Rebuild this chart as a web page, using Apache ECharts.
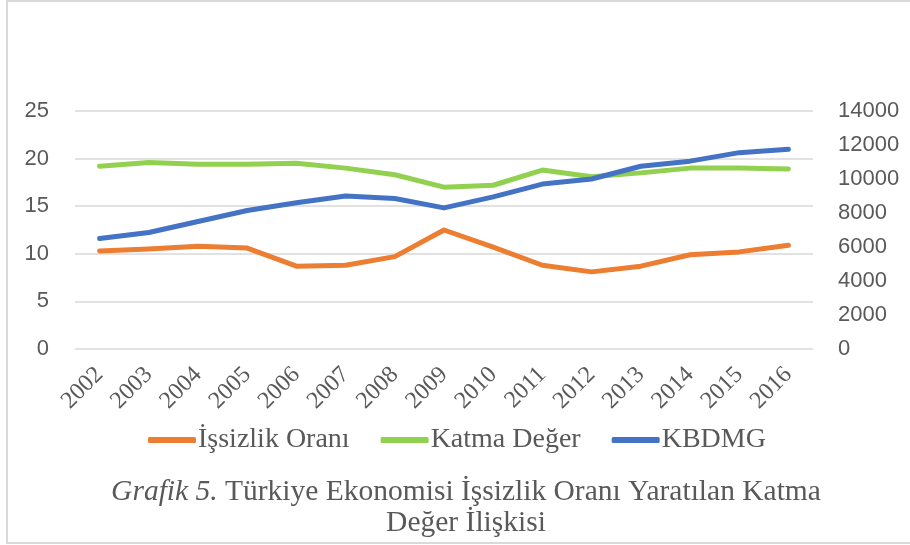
<!DOCTYPE html>
<html>
<head>
<meta charset="utf-8">
<script src="https://cdn.jsdelivr.net/npm/echarts@6/dist/echarts.min.js"></script>
<style>html,body{margin:0;padding:0;background:#fff;}#c{width:910px;height:545px;}</style>
</head>
<body>
<div id="c"></div>
<script>
const years = ['2002','2003','2004','2005','2006','2007','2008','2009','2010','2011','2012','2013','2014','2015','2016'];
const issizlik = [10.3, 10.5, 10.8, 10.6, 8.7, 8.8, 9.7, 12.5, 10.7, 8.8, 8.1, 8.7, 9.9, 10.2, 10.9];
const katmaDeger = [19.2, 19.6, 19.4, 19.4, 19.5, 19.0, 18.3, 17.0, 17.2, 18.8, 18.1, 18.5, 19.0, 19.0, 18.9];
const kbdmg = [6500, 6850, 7500, 8150, 8600, 9000, 8850, 8300, 8950, 9700, 10000, 10750, 11050, 11550, 11750];
const leftTicks = {min: 0, max: 25, interval: 5};
const rightTicks = {min: 0, max: 14000, interval: 2000};
const seriesNames = ['İşsizlik Oranı', 'Katma Değer', 'KBDMG'];

const txt = '#595959';
const chart = echarts.init(document.getElementById('c'), null, {renderer: 'canvas'});
const lineSeries = (name, data, color, axis) => ({
  name, type: 'line', data, yAxisIndex: axis, showSymbol: false, symbol: 'none',
  lineStyle: {color, width: 5, cap: 'round', join: 'round'}, itemStyle: {color},
  animation: false
});
chart.setOption({
  backgroundColor: '#fff',
  animation: false,
  grid: {left: 75, top: 111, width: 738, height: 238},
  xAxis: {
    type: 'category', data: years, boundaryGap: true,
    axisLine: {show: false}, axisTick: {show: false},
    axisLabel: {rotate: 45, margin: 22, color: txt, fontFamily: 'Liberation Serif', fontSize: 24, interval: 0}
  },
  yAxis: [
    {type: 'value', min: leftTicks.min, max: leftTicks.max, interval: leftTicks.interval,
     axisLine: {show: false}, axisTick: {show: false},
     splitLine: {lineStyle: {color: '#d9d9d9', width: 1.5}},
     axisLabel: {margin: 26, color: txt, fontFamily: 'Liberation Sans', fontSize: 22, formatter: v => String(v)}},
    {type: 'value', min: rightTicks.min, max: rightTicks.max, interval: rightTicks.interval,
     axisLine: {show: false}, axisTick: {show: false}, splitLine: {show: false},
     axisLabel: {margin: 25, color: txt, fontFamily: 'Liberation Sans', fontSize: 22, formatter: v => String(v)}}
  ],
  legend: {
    data: seriesNames, left: 143, top: 421, icon: 'roundRect', itemWidth: 48, itemHeight: 6, itemGap: 31,
    textStyle: {color: txt, fontFamily: 'Liberation Serif', fontSize: 28, padding: [0, 0, 0, -3]}
  },
  series: [
    lineSeries(seriesNames[0], issizlik, '#ED7D31', 0),
    lineSeries(seriesNames[1], katmaDeger, '#92D050', 0),
    lineSeries(seriesNames[2], kbdmg, '#4472C4', 1)
  ],
  graphic: [
    {type: 'rect', shape: {x: 7, y: 1, width: 920, height: 542}, style: {fill: 'none', stroke: '#d9d9d9', lineWidth: 2}, silent: true},
    {type: 'text', x: 466, y: 477,
     style: {text: '{i|Grafik 5.} Türkiye Ekonomisi İşsizlik Oranı Yaratılan Katma', fill: txt,
       font: '29.5px "Liberation Serif"', textAlign: 'center',
       rich: {i: {fontStyle: 'italic', fontFamily: 'Liberation Serif', fontSize: 29.5, fill: txt}}}},
    {type: 'text', x: 466, y: 508,
     style: {text: 'Değer İlişkisi', fill: txt, font: '29.5px "Liberation Serif"', textAlign: 'center'}}
  ]
});
</script>
</body>
</html>
